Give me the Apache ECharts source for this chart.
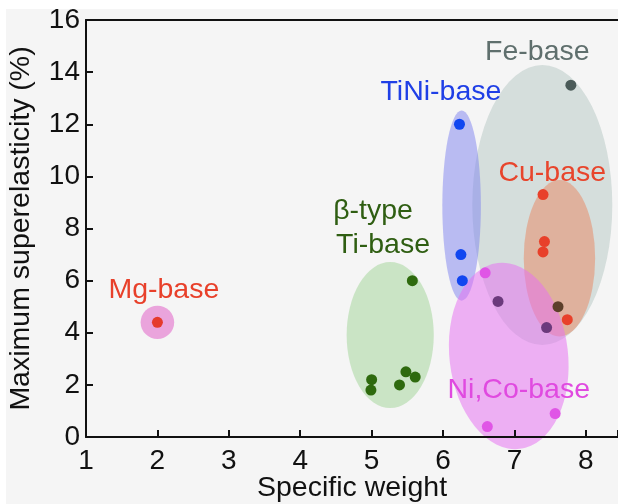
<!DOCTYPE html>
<html>
<head>
<meta charset="utf-8">
<script src="https://cdn.jsdelivr.net/npm/echarts@6/dist/echarts.min.js"></script>
<style>
html,body{margin:0;padding:0;background:#ffffff;}
#chart{width:618px;height:504px;}
</style>
</head>
<body>
<div id="chart"></div>
<script>
// ---- data ----
const xTicks = [1, 2, 3, 4, 5, 6, 7, 8];
const yTicks = [0, 2, 4, 6, 8, 10, 12, 14, 16];

const mgWeight = [2.0];
const mgElasticity = [4.4];

const tiWeight = [5.57, 5.00, 4.99, 5.48, 5.61, 5.39];
const tiElasticity = [6.0, 2.2, 1.8, 2.5, 2.3, 2.0];

const tiniWeight = [6.23, 6.25, 6.27];
const tiniElasticity = [12.0, 7.0, 6.0];

const cuWeight = [7.40, 7.42, 7.40, 7.74];
const cuElasticity = [9.3, 7.5, 7.1, 4.5];

const feWeight = [7.79];
const feElasticity = [13.5];
const feShadedWeight = [7.61];
const feShadedElasticity = [5.0];

const nicoWeight = [6.59, 6.62, 7.57];
const nicoElasticity = [6.3, 0.4, 0.9];
const nicoShadedWeight = [6.77, 7.45];
const nicoShadedElasticity = [5.2, 4.2];

// group regions: centre weight, centre elasticity, half-width, half-height, tilt (deg)
const regionNames = ['Fe-base', 'Cu-base', 'TiNi-base', 'β-type Ti-base', 'Ni,Co-base', 'Mg-base'];
const regionCx = [7.39, 7.63, 6.26, 5.26, 6.92, 2.0];
const regionCy = [8.9, 6.86, 8.88, 3.91, 3.11, 4.4];
const regionRx = [0.98, 0.50, 0.27, 0.61, 0.83, 0.235];
const regionRy = [5.37, 3.0, 3.65, 2.8, 3.59, 0.64];
const regionTilt = [0, 0, 0, 0, 6.7, 0];

// group labels
const labelText = ['Fe-base', 'TiNi-base', 'Cu-base', 'β-type', 'Ti-base', 'Mg-base', 'Ni,Co-base'];
const labelX = [7.32, 5.97, 7.53, 5.02, 5.16, 2.09, 7.06];
const labelY = [14.77, 13.24, 10.13, 8.67, 7.37, 5.64, 1.80];

// ---- styles ----
const FONT = '"Liberation Sans", Arial, sans-serif';
const regionFill = [
  'rgba(185,202,198,0.55)',
  'rgba(232,140,105,0.55)',
  'rgba(125,130,240,0.5)',
  'rgba(160,212,150,0.5)',
  'rgba(230,112,242,0.52)',
  'rgba(230,130,210,0.7)'
];
const labelColor = ['#5f6f6d', '#1f3fe6', '#e8452c', '#2f5e12', '#2f5e12', '#e8402a', '#e04ae0'];

const pairs = (xs, ys) => xs.map((x, i) => [x, ys[i]]);

const chart = echarts.init(document.getElementById('chart'), null, {renderer: 'canvas'});

function pointSeries(name, xs, ys, color) {
  return {
    name: name, type: 'scatter', z: 5,
    data: pairs(xs, ys),
    symbolSize: 11,
    itemStyle: {color: color, opacity: 1},
    silent: true
  };
}

const option = {
  backgroundColor: 'transparent',
  animation: false,
  graphic: [{
    type: 'rect', z: -100, silent: true,
    shape: {x: 6, y: 9, width: 612, height: 495},
    style: {fill: '#f5f5f5'}
  }],
  grid: {left: 86, right: 0, top: 20, bottom: 67, containLabel: false, outerBoundsMode: 'none'},
  xAxis: [{
    type: 'value', min: 1, max: 8.45, interval: 1, z: 10,
    name: 'Specific weight', nameLocation: 'middle', nameGap: 37, nameMoveOverlap: false,
    nameTextStyle: {fontFamily: FONT, fontSize: 28.5, color: '#111'},
    axisLine: {show: true, lineStyle: {color: '#111', width: 2}},
    axisTick: {show: true, inside: true, length: 7, lineStyle: {color: '#111', width: 2}},
    axisLabel: {
      fontFamily: FONT, fontSize: 28, color: '#111', margin: 10,
      formatter: v => (xTicks.indexOf(v) >= 0 ? String(v) : '')
    },
    splitLine: {show: false}
  }, {
    type: 'value', position: 'top', min: 1, max: 8.45, interval: 1, z: 10,
    axisLine: {show: true, lineStyle: {color: '#111', width: 2}},
    axisTick: {show: false}, axisLabel: {show: false}, splitLine: {show: false}
  }],
  yAxis: {
    type: 'value', min: 0, max: 16, interval: 2, z: 10,
    name: 'Maximum superelasticity (%)', nameLocation: 'middle', nameGap: 50,
    nameTextStyle: {fontFamily: FONT, fontSize: 28.5, color: '#111'},
    axisLine: {show: true, lineStyle: {color: '#111', width: 2}},
    axisTick: {show: true, inside: true, length: 7, lineStyle: {color: '#111', width: 2}},
    axisLabel: {
      fontFamily: FONT, fontSize: 28, color: '#111', margin: 6,
      formatter: v => (yTicks.indexOf(v) >= 0 ? String(v) : '')
    },
    splitLine: {show: false}
  },
  series: [
    {
      name: 'regions', type: 'custom', z: 2, silent: true, clip: false,
      data: regionNames.map((n, i) => [regionCx[i], regionCy[i], regionRx[i], regionRy[i], regionTilt[i]]),
      renderItem: function (params, api) {
        const c = api.coord([api.value(0), api.value(1)]);
        const s = api.size([api.value(2), api.value(3)]);
        return {
          type: 'circle',
          x: c[0], y: c[1],
          scaleX: s[0], scaleY: s[1],
          rotation: api.value(4) * Math.PI / 180,
          shape: {cx: 0, cy: 0, r: 1},
          style: {fill: regionFill[params.dataIndex], stroke: null}
        };
      }
    },
    pointSeries('Mg-base', mgWeight, mgElasticity, '#e53a2c'),
    pointSeries('β-type Ti-base', tiWeight, tiElasticity, '#2e6a0e'),
    pointSeries('TiNi-base', tiniWeight, tiniElasticity, '#1146f0'),
    pointSeries('Cu-base', cuWeight, cuElasticity, '#e8402a'),
    pointSeries('Fe-base', feWeight, feElasticity, '#4a5a58'),
    pointSeries('Fe-base (shaded)', feShadedWeight, feShadedElasticity, '#5c3f2a'),
    pointSeries('Ni,Co-base', nicoWeight, nicoElasticity, '#e055e6'),
    pointSeries('Ni,Co-base (shaded)', nicoShadedWeight, nicoShadedElasticity, '#6b3a7c'),
    {
      name: 'labels', type: 'custom', z: 6, silent: true, clip: false,
      data: labelText.map((t, i) => [labelX[i], labelY[i]]),
      renderItem: function (params, api) {
        const c = api.coord([api.value(0), api.value(1)]);
        return {
          type: 'text', x: c[0], y: c[1],
          style: {
            text: labelText[params.dataIndex],
            fill: labelColor[params.dataIndex],
            font: '28.5px ' + FONT,
            align: 'center', verticalAlign: 'middle'
          }
        };
      }
    }
  ]
};
chart.setOption(option);
</script>
</body>
</html>
